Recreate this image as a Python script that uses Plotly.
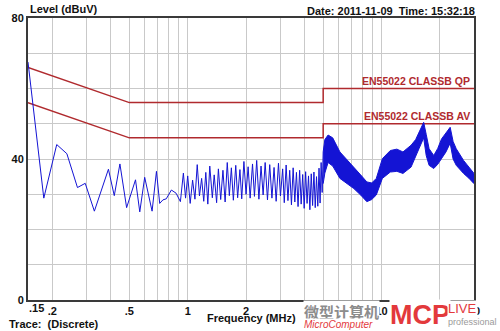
import math
import plotly.graph_objects as go

# ---------------- data ----------------
# sparse low-frequency part of the trace (MHz, dBuV)
lf_freq = [0.150, 0.181, 0.211, 0.238, 0.270, 0.296, 0.330, 0.390, 0.418, 0.447,
           0.484, 0.538, 0.566, 0.600, 0.655, 0.690, 0.717, 0.745, 0.775, 0.824,
           0.871, 0.917]
lf_level = [67.5, 28.9, 44.1, 41.5, 31.9, 33.1, 25.2, 37.1, 29.6, 38.6,
            26.2, 34.1, 25.0, 34.8, 25.2, 36.5, 27.4, 28.4, 28.7, 31.2,
            30.3, 27.9]

# oscillating middle part (peak / trough readings)
mf_freq = [0.95, 0.975, 1.00, 1.03, 1.06, 1.09, 1.12, 1.15, 1.18, 1.21,
           1.24, 1.27, 1.30, 1.34, 1.37, 1.41, 1.44, 1.48, 1.52, 1.56,
           1.60, 1.64, 1.68, 1.72, 1.77, 1.81, 1.86, 1.90, 1.95, 2.00,
           2.05, 2.10, 2.16, 2.21, 2.27, 2.33, 2.39, 2.45, 2.51, 2.58,
           2.65, 2.72, 2.79, 2.86, 2.94, 3.01, 3.09, 3.15, 3.22, 3.29,
           3.36, 3.43, 3.50, 3.57, 3.64, 3.71, 3.78, 3.85, 3.92, 3.99,
           4.06, 4.13, 4.20, 4.27, 4.34, 4.41, 4.48, 4.55, 4.62, 4.69,
           4.76, 4.82, 4.88, 4.94, 5.00]
mf_level = [36.0, 28.9, 35.2, 27.4, 34.0, 28.6, 38.4, 29.5, 34.5, 28.0,
            36.2, 27.2, 38.0, 29.0, 35.5, 27.6, 37.2, 28.5, 36.8, 27.8,
            39.0, 29.6, 37.5, 28.3, 38.2, 29.0, 37.0, 28.7, 39.3, 30.0,
            37.8, 28.9, 38.6, 29.4, 39.6, 28.6, 38.0, 29.8, 39.0, 28.4,
            38.4, 28.9, 37.6, 28.0, 38.8, 29.5, 37.2, 27.6, 38.3, 28.2,
            36.8, 27.0, 37.5, 27.8, 36.2, 26.5, 36.8, 27.2, 35.6, 26.0,
            36.4, 27.4, 35.2, 25.6, 35.8, 26.8, 36.3, 26.2, 35.0, 26.6,
            37.4, 27.5, 39.0, 30.5, 42.0]

# dense high-frequency part: envelope of the trace
band_freq = [5.0, 5.1, 5.3, 5.6, 6.1, 6.6, 7.2, 7.8, 8.4, 8.9,
             9.4, 10.1, 11.1, 12.0, 12.9, 14.2, 15.0, 15.6, 16.5, 17.0,
             17.6, 18.6, 19.5, 20.4, 21.5, 22.6, 23.4, 24.3, 26.5, 28.3,
             30.0]
band_hi = [42.0, 45.5, 46.8, 46.0, 42.0, 40.0, 37.7, 35.5, 33.5, 33.2,
           34.5, 40.1, 42.4, 42.8, 42.0, 43.9, 45.5, 47.6, 50.4, 47.0,
           42.9, 41.0, 43.0, 45.7, 47.5, 49.0, 45.0, 42.9, 39.6, 37.5,
           35.9]
band_lo = [33.0, 36.0, 39.0, 38.0, 34.5, 33.0, 31.6, 29.8, 27.9, 28.5,
           29.8, 34.5, 36.3, 36.5, 35.9, 37.7, 40.5, 42.9, 46.0, 41.0,
           38.2, 37.3, 38.5, 40.1, 42.0, 44.5, 40.0, 38.2, 35.9, 34.5,
           33.0]

# limit lines
limit_freq = [0.15, 0.5, 5, 5, 30]
qp_level = [66, 56, 56, 60, 60]
av_level = [56, 46, 46, 50, 50]

x_tickvals = [0.15, 0.2, 0.3, 0.4, 0.5, 0.6, 0.7, 0.8, 0.9, 1, 2, 3, 4, 5, 6, 7, 8, 9, 10, 20, 30]
x_ticktext = ["", ".2", "", "", ".5", "", "", "", "", "1", "2", "", "", "5",
              "", "", "", "", "10", "20", "30"]
first_tick_label = ".15"
y_tickvals = [0, 10, 20, 30, 40, 50, 60, 70, 80]
y_ticktext = ["0", "", "", "", "40", "", "", "", "80"]

# ---------------- styling ----------------
W, H = 500, 331
L, R, T, B = 26, 474, 15, 300
BLUE = "#1414d4"
RED = "#b02a2e"
LOGO_RED = "#e3393c"
FONT = "Liberation Sans, Arial, sans-serif"


def px(x, y):
    return (x - L) / (R - L), (B - y) / (B - T)


fig = go.Figure()
fig.add_trace(go.Scatter(x=limit_freq, y=qp_level, mode="lines",
                         line=dict(color=RED, width=1.5), hoverinfo="skip"))
fig.add_trace(go.Scatter(x=limit_freq, y=av_level, mode="lines",
                         line=dict(color=RED, width=1.5), hoverinfo="skip"))
fig.add_trace(go.Scatter(x=lf_freq + mf_freq, y=lf_level + mf_level, mode="lines",
                         line=dict(color=BLUE, width=1)))
fig.add_trace(go.Scatter(x=band_freq, y=band_lo, mode="lines",
                         line=dict(color=BLUE, width=1)))
fig.add_trace(go.Scatter(x=band_freq, y=band_hi, mode="lines", fill="tonexty",
                         fillcolor=BLUE, line=dict(color=BLUE, width=1)))

annotations = []


def add_text(text, x, y, size, color="#111", anchor="left", weight="bold", family=FONT,
             bg=None, italic=False):
    xp, yp = px(x, y)
    d = dict(text=text, xref="paper", yref="paper", x=xp, y=yp, xanchor=anchor,
             yanchor="middle", showarrow=False, borderpad=0,
             font=dict(size=size, color=color, family=family, weight=weight,
                       style="italic" if italic else "normal"))
    if bg:
        d["bgcolor"] = bg
    annotations.append(d)


add_text("Level (dBuV)", 27, 6, 11)
add_text("Date: 2011-11-09  Time: 15:32:18", 476, 8, 11, anchor="right")
add_text("Frequency (MHz)", 250, 318, 11, anchor="center")
add_text("Trace:  (Discrete)", 6, 324, 11)

# first x tick label sits just right of the axis
annotations.append(dict(text=first_tick_label, xref="x", yref="paper",
                        x=math.log10(x_tickvals[0]), y=px(0, 308)[1], xanchor="left",
                        yanchor="middle", showarrow=False, xshift=-1,
                        font=dict(size=11, family=FONT, weight="bold", color="#111")))

for label, lvl in (("EN55022 CLASSB QP", 60), ("EN55022 CLASSB AV", 50)):
    annotations.append(dict(text=label, xref="paper", yref="y", x=px(472, 0)[0], y=lvl,
                            xanchor="right", yanchor="bottom", showarrow=False,
                            font=dict(size=10.5, color=RED, family=FONT, weight="bold")))

# watermark logo
add_text("微型计算机", 302, 312, 15, color="#8c8c8c", family="Noto Sans CJK SC", bg="white")
add_text("<span style='color:%s'>Micro</span>Computer" % LOGO_RED, 302, 325, 10,
         color=LOGO_RED, weight="normal", italic=True, bg="white")
add_text("MCP", 389, 315, 27, color=LOGO_RED, bg="white")
add_text("LIVE", 447, 309, 13, color=LOGO_RED, weight="normal", bg="white")
add_text("professional", 447, 322, 9, color="#9a9a9a", weight="normal", bg="white")

fig.update_layout(
    width=W, height=H,
    margin=dict(l=L, r=W - R, t=T, b=H - B),
    paper_bgcolor="white", plot_bgcolor="white",
    showlegend=False,
    annotations=annotations,
    font=dict(family=FONT, size=11, color="#111"),
)
fig.update_xaxes(type="log", range=[math.log10(0.15), math.log10(30)],
                 tickvals=x_tickvals, ticktext=x_ticktext, ticks="",
                 showgrid=True, gridcolor="#c9c9c9", gridwidth=1,
                 showline=True, linecolor="#3a3a3a", linewidth=2, mirror=True,
                 tickfont=dict(size=11, family=FONT, weight="bold", color="#111"),
                 zeroline=False, fixedrange=True)
fig.update_yaxes(range=[0, 80], tickvals=y_tickvals, ticktext=y_ticktext, ticks="",
                 showgrid=True, gridcolor="#c9c9c9", gridwidth=1,
                 showline=True, linecolor="#3a3a3a", linewidth=2, mirror=True,
                 tickfont=dict(size=11, family=FONT, weight="bold", color="#111"),
                 zeroline=False, fixedrange=True)

fig.write_html("out.html", config={"displayModeBar": False},
               post_script="document.body.style.margin='0';")
